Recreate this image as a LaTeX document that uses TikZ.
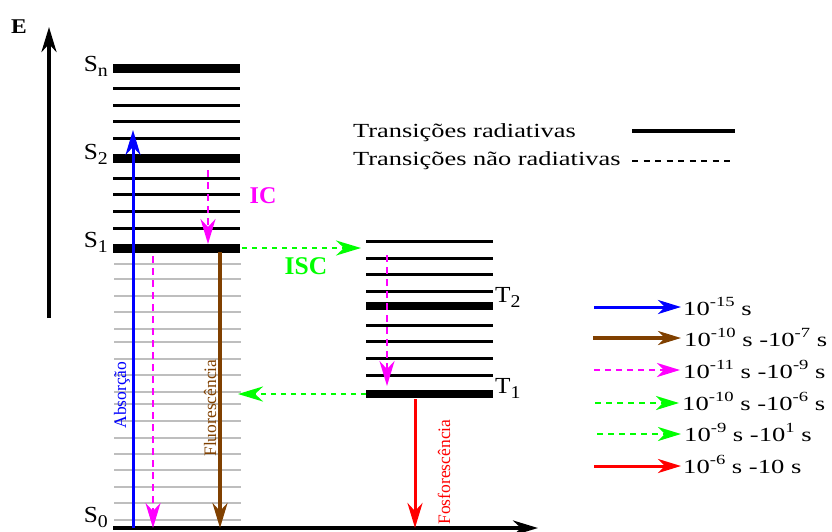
\documentclass[tikz,border=0pt]{standalone}
\usepackage{fontspec}
\setmainfont{Liberation Serif}
\usetikzlibrary{arrows.meta}
\definecolor{brn}{RGB}{128,64,0}
\definecolor{lvgray}{RGB}{190,190,190}
\definecolor{grn}{RGB}{0,255,0}
\definecolor{mag}{RGB}{255,0,255}
\newcommand{\hstr}[2][1.3]{\scalebox{#1}[1]{#2}}
\newcommand{\lvsub}[1]{\raisebox{-5pt}{\fontsize{18}{18}\selectfont #1}}
\newcommand{\lsup}[1]{\raisebox{9pt}{\fontsize{14}{14}\selectfont #1}}
\begin{document}
\begin{tikzpicture}[x=1pt,y=-1pt,
  lvl/.style={line width=3pt},
  lvlS/.style={line width=9pt},
  lvlT/.style={line width=8pt},
  lvlg/.style={line width=2.7pt, lvgray},
  tip/.style={-{Stealth[length=25pt,width=15pt,inset=8pt]}},
  ltip/.style={-{Stealth[length=23pt,width=14pt,inset=7pt]}},
  magd/.style={dash pattern=on 7pt off 5pt},
  grnd/.style={dash pattern=on 5pt off 5pt},
  txt/.style={font=\fontsize{20}{24}\selectfont, inner sep=0pt},
  lab/.style={font=\fontsize{23}{26}\selectfont, inner sep=0pt},
  rot/.style={font=\fontsize{17.5}{20}\selectfont, inner sep=0pt, anchor=base, rotate=90},
  bld/.style={font=\bfseries\fontsize{24}{28}\selectfont, inner sep=0pt, anchor=base}
]
\useasboundingbox (0,0) rectangle (832,531);

% singlet levels
\draw[lvlS] (113,68.5) -- (240,68.5);
\foreach \y in {88,105,121,138,178,194,211,228} \draw[lvl] (113,\y) -- (240,\y);
\draw[lvlS] (113,158.5) -- (240,158.5);
\draw[lvlS] (113,248) -- (240,248);
\foreach \y in {264,279,296,312,329,342,359,375,392,404,421,438,454,470,487,503,520}
  \draw[lvlg] (114,\y) -- (241,\y);

% triplet levels
\foreach \y in {241,258,274,291,325,341,358,375} \draw[lvl] (366,\y) -- (493,\y);
\draw[lvlT] (366,305.5) -- (493,305.5);
\draw[lvlT] (366,394) -- (493,394);

% axes
\coordinate (eA) at (49,318); \coordinate (eB) at (49,27);
\coordinate (xA) at (113,528); \coordinate (xB) at (538,528);
\draw[line width=4pt, tip] (eA) -- (eB);
\draw[line width=4pt, tip] (xA) -- (xB);
\node[font=\bfseries\fontsize{21}{24}\selectfont, inner sep=0pt, anchor=base] (E) at (19,33.5) {\hstr[1.12]{E}};

% level labels
\node[lab, anchor=base east] (Sn) at (108,71) {\hstr[1.1]{S\lvsub{n}}};
\node[lab, anchor=base east] (S2) at (108,159) {\hstr[1.1]{S\lvsub{2}}};
\node[lab, anchor=base east] (S1) at (108,247) {\hstr[1.1]{S\lvsub{1}}};
\node[lab, anchor=base east] (S0) at (108,522) {\hstr[1.1]{S\lvsub{0}}};
\node[lab, anchor=base west] (T2) at (495,302) {\hstr[1.1]{T\lvsub{2}}};
\node[lab, anchor=base west] (T1) at (495,393) {\hstr[1.1]{T\lvsub{1}}};

% transitions
\coordinate (absA) at (133,528); \coordinate (absB) at (133,130);
\coordinate (icA) at (208,170);  \coordinate (icB) at (208,244);
\coordinate (icsA) at (153,256); \coordinate (icsB) at (153,528);
\coordinate (flA) at (220,252);  \coordinate (flB) at (220,528);
\coordinate (iscA) at (242,248); \coordinate (iscB) at (361,248);
\coordinate (ictA) at (387,255); \coordinate (ictB) at (387,386);
\coordinate (bkA) at (366,394);  \coordinate (bkB) at (238,394);
\coordinate (phA) at (415,399);  \coordinate (phB) at (415,528);

\draw[blue, line width=3pt, tip] (absA) -- (absB);
\draw[mag, line width=2.6pt, magd, tip] (icA) -- (icB);
\draw[mag, line width=2.6pt, magd, tip] (icsA) -- (icsB);
\draw[brn, line width=3.3pt, tip] (flA) -- (flB);
\draw[grn, line width=2.5pt, grnd, tip] (iscA) -- (iscB);
\draw[mag, line width=2.6pt, magd, tip] (ictA) -- (ictB);
\draw[grn, line width=2.5pt, grnd, tip] (bkA) -- (bkB);
\draw[red, line width=3pt, tip] (phA) -- (phB);

\node[rot, text=blue] (abs) at (126,395) {Absorção};
\node[rot, text=brn] (fl) at (216,408) {Fluorescência};
\node[rot, text=red] (ph) at (450,472) {Fosforescência};
\node[bld, text=mag] (IC) at (263,203) {IC};
\node[bld, text=grn, font=\bfseries\fontsize{25.5}{28}\selectfont] (ISC) at (306,274) {ISC};

% legend top
\node[txt, anchor=base west] (rad) at (353,137) {\hstr[1.32]{Transições radiativas}};
\node[txt, anchor=base west] (nrad) at (353,165) {\hstr[1.32]{Transições não radiativas}};
\coordinate (radA) at (632,131); \coordinate (radB) at (735,131);
\coordinate (nrA) at (632,161);  \coordinate (nrB) at (735,161);
\draw[line width=3.5pt] (radA) -- (radB);
\draw[line width=1.5pt, dash pattern=on 6pt off 5.5pt] (nrA) -- (nrB);

% legend right
\coordinate (l1A) at (594,307); \coordinate (l1B) at (681,307);
\coordinate (l2A) at (593,338); \coordinate (l2B) at (681,338);
\coordinate (l3A) at (594,370); \coordinate (l3B) at (680,370);
\coordinate (l4A) at (595,403); \coordinate (l4B) at (679,403);
\coordinate (l5A) at (597,434); \coordinate (l5B) at (681,434);
\coordinate (l6A) at (594,466); \coordinate (l6B) at (681,466);
\draw[blue, line width=3pt, ltip] (l1A) -- (l1B);
\draw[brn, line width=3.3pt, ltip] (l2A) -- (l2B);
\draw[mag, line width=2.5pt, dash pattern=on 6pt off 5pt, ltip] (l3A) -- (l3B);
\draw[grn, line width=2.5pt, dash pattern=on 6pt off 5pt, ltip] (l4A) -- (l4B);
\draw[grn, line width=2.5pt, dash pattern=on 6pt off 5pt, ltip] (l5A) -- (l5B);
\draw[red, line width=3pt, ltip] (l6A) -- (l6B);
\node[txt, anchor=base west] (t1) at (683,315) {\hstr[1.33]{10\lsup{-15} s}};
\node[txt, anchor=base west] (t2) at (684,346) {\hstr[1.33]{10\lsup{-10} s -10\lsup{-7} s}};
\node[txt, anchor=base west] (t3) at (683,378) {\hstr[1.33]{10\lsup{-11} s -10\lsup{-9} s}};
\node[txt, anchor=base west] (t4) at (682,410) {\hstr[1.33]{10\lsup{-10} s -10\lsup{-6} s}};
\node[txt, anchor=base west] (t5) at (684,441) {\hstr[1.33]{10\lsup{-9} s -10\lsup{1} s}};
\node[txt, anchor=base west] (t6) at (683,473) {\hstr[1.33]{10\lsup{-6} s -10 s}};
\end{tikzpicture}
\end{document}
